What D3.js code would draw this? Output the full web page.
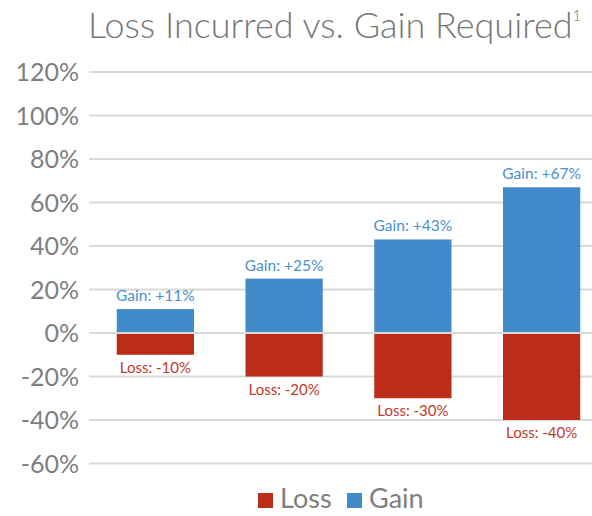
<!DOCTYPE html>
<html>
<head>
	<meta charset="UTF-8">
	<title>Loss Incurred vs. Gain Required</title>
	<script src="https://d3js.org/d3.v7.min.js"></script>
	<style>
		body { margin: 0; background: #fff; }
		text { font-family: Lato, "Open Sans", sans-serif; }
		.grid line { stroke: #d9d9d9; stroke-width: 2px; }
		.axis-label { fill: #7f7f7f; font-size: 25px; }
	</style>
</head>
<body>
	<script>
		// chart data
		var categories = ["A", "B", "C", "D"];
		var losses = [-10, -20, -30, -40];
		var gains = [11, 25, 43, 67];
		var yTicks = [-60, -40, -20, 0, 20, 40, 60, 80, 100, 120];

		var width = 592, height = 516;

		var svg = d3.select("body").append("svg")
			.attr("width", width)
			.attr("height", height);

		// scales
		var x = d3.scaleBand()
			.domain(categories)
			.range([91, 606])
			.paddingInner(0.4)
			.paddingOuter(0.2);

		var y = d3.scaleLinear()
			.domain([-60, 120])
			.range([463.5, 72]);

		// title
		var title = svg.append("text")
			.attr("x", 88)
			.attr("y", 38)
			.attr("fill", "#767676")
			.style("font-size", "36px")
			.style("font-weight", 300);
		title.append("tspan").text("Loss Incurred vs. Gain Required");
		title.append("tspan")
			.attr("dy", -17)
			.style("font-size", "15px")
			.text("1");

		// gridlines
		var grid = svg.append("g").attr("class", "grid");
		grid.selectAll("line")
			.data(yTicks)
			.enter().append("line")
			.attr("x1", 89)
			.attr("x2", width)
			.attr("y1", function(d) { return y(d); })
			.attr("y2", function(d) { return y(d); });

		// y axis labels
		svg.selectAll(".axis-label")
			.data(yTicks)
			.enter().append("text")
			.attr("class", "axis-label")
			.attr("x", 79)
			.attr("y", function(d) { return y(d) + 9; })
			.attr("text-anchor", "end")
			.text(function(d) { return d + "%"; });

		// gain bars
		svg.selectAll(".gain")
			.data(gains)
			.enter().append("rect")
			.attr("class", "gain")
			.attr("x", function(d, i) { return x(categories[i]); })
			.attr("width", x.bandwidth())
			.attr("y", function(d) { return y(d); })
			.attr("height", function(d) { return y(0) - y(d); })
			.attr("fill", "#428bca");

		// loss bars
		svg.selectAll(".loss")
			.data(losses)
			.enter().append("rect")
			.attr("class", "loss")
			.attr("x", function(d, i) { return x(categories[i]); })
			.attr("width", x.bandwidth())
			.attr("y", y(0))
			.attr("height", function(d) { return y(d) - y(0); })
			.attr("fill", "#bb2d19");

		// zero line on top of bars
		svg.append("line")
			.attr("x1", 89).attr("x2", width)
			.attr("y1", y(0)).attr("y2", y(0))
			.attr("stroke", "#d9d9d9")
			.attr("stroke-width", 2);

		// labels
		svg.selectAll(".gain-label")
			.data(gains)
			.enter().append("text")
			.attr("class", "gain-label")
			.attr("x", function(d, i) { return x(categories[i]) + x.bandwidth() / 2; })
			.attr("y", function(d) { return y(d) - 8; })
			.attr("text-anchor", "middle")
			.attr("fill", "#4a90d0")
			.style("font-size", "15.5px")
			.text(function(d) { return "Gain: +" + d + "%"; });

		svg.selectAll(".loss-label")
			.data(losses)
			.enter().append("text")
			.attr("class", "loss-label")
			.attr("x", function(d, i) { return x(categories[i]) + x.bandwidth() / 2; })
			.attr("y", function(d) { return y(d) + 18; })
			.attr("text-anchor", "middle")
			.attr("fill", "#c0392b")
			.style("font-size", "15px")
			.text(function(d) { return "Loss: " + d + "%"; });

		// legend
		var legend = [{name: "Loss", color: "#bb2d19", x: 258}, {name: "Gain", color: "#428bca", x: 347}];
		var lg = svg.selectAll(".legend")
			.data(legend)
			.enter().append("g")
			.attr("class", "legend")
			.attr("transform", function(d) { return "translate(" + d.x + ",493)"; });
		lg.append("rect")
			.attr("width", 15)
			.attr("height", 15)
			.attr("fill", function(d) { return d.color; });
		lg.append("text")
			.attr("x", 22)
			.attr("y", 15)
			.attr("fill", "#7f7f7f")
			.style("font-size", "27px")
			.text(function(d) { return d.name; });
	</script>
</body>
</html>
